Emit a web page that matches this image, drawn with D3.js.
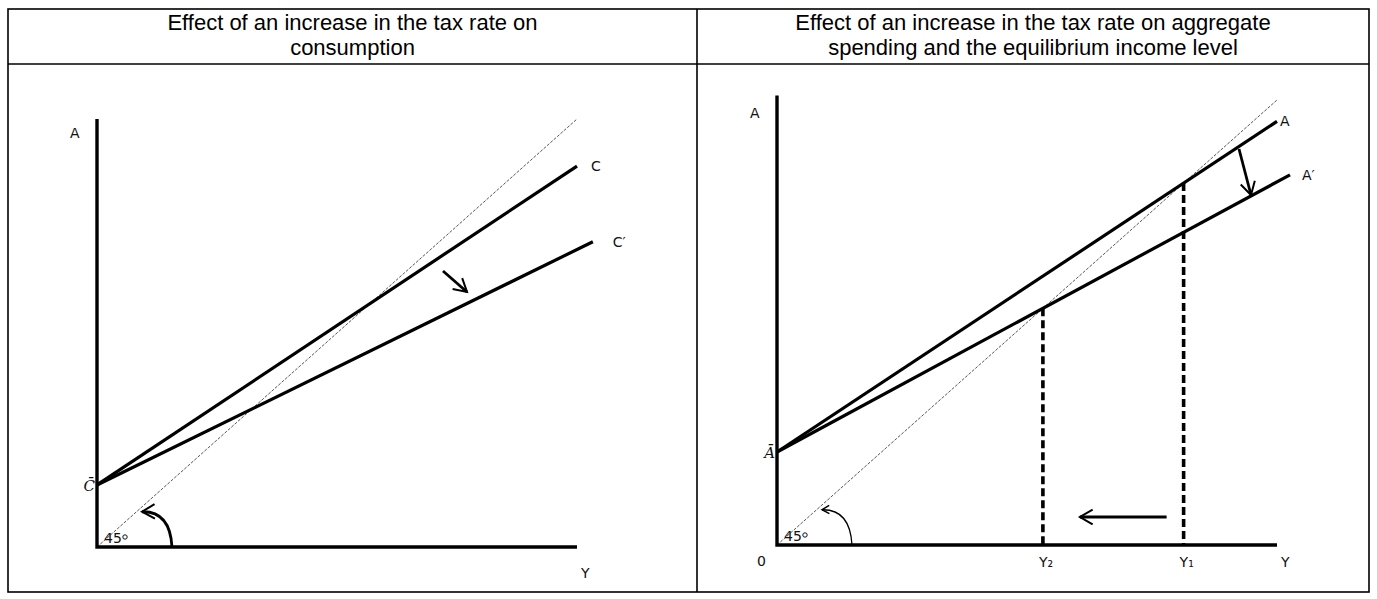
<!DOCTYPE html>
<html>
<head>
<meta charset="utf-8">
<script src="https://cdn.jsdelivr.net/npm/d3@7"></script>
<style>
  html, body { margin: 0; padding: 0; background: #fff; }
  svg { display: block; }
  .title { font-family: "Liberation Sans", Arial, sans-serif; font-size: 22px; fill: #000; }
  .lbl { font-family: "DejaVu Sans", Verdana, sans-serif; font-size: 14px; fill: #111; }
  .bar { font-family: "DejaVu Serif", serif; font-style: italic; font-size: 15px; fill: #111; }
</style>
</head>
<body>
<svg id="chart" width="1377" height="599"></svg>
<script>
// Panel titles
const titles = [
  ["Effect of an increase in the tax rate on", "consumption"],
  ["Effect of an increase in the tax rate on aggregate", "spending and the equilibrium income level"]
];

// Left panel: consumption schedules (intercept, marginal slope, end of line on the Y axis scale)
const consNames = ["C", "C\u2032"];
const consIntercept = [14.5, 14.5];
const consSlope = [0.745, 0.55];
const consEnd = [100, 103.3];

// Right panel: aggregate spending schedules
const aggNames = ["A", "A\u2032"];
const aggIntercept = [20.9, 20.9];
const aggSlope = [0.743, 0.607];
const aggEnd = [100, 102.6];
const incomeLabels = ["Y\u2081", "Y\u2082"];

const svg = d3.select("#chart");

// Table frame
const frame = { left: 8, right: 1369, top: 9, head: 64, bottom: 592, mid: 697 };
const g0 = svg.append("g").attr("stroke", "#000").attr("stroke-width", 1.6);
g0.append("rect").attr("x", frame.left).attr("y", frame.top)
  .attr("width", frame.right - frame.left).attr("height", frame.bottom - frame.top).attr("fill", "none");
g0.append("line").attr("x1", frame.left).attr("x2", frame.right).attr("y1", frame.head).attr("y2", frame.head);
g0.append("line").attr("x1", frame.mid).attr("x2", frame.mid).attr("y1", frame.top).attr("y2", frame.bottom);

const centers = [(frame.left + frame.mid) / 2, (frame.mid + frame.right) / 2];
titles.forEach((t, i) => {
  t.forEach((line, j) => {
    svg.append("text").attr("class", "title").attr("text-anchor", "middle")
      .attr("x", centers[i]).attr("y", 30 + j * 25).text(line);
  });
});

// Arrowhead markers
const defs = svg.append("defs");
defs.append("marker").attr("id", "head").attr("viewBox", "0 0 10 10")
  .attr("refX", 8).attr("refY", 5).attr("markerWidth", 6.5).attr("markerHeight", 6.5)
  .attr("orient", "auto").attr("markerUnits", "strokeWidth")
  .append("path").attr("d", "M1,1 L8,5 L1,9").attr("fill", "none").attr("stroke", "#000").attr("stroke-width", 1.1);
defs.append("marker").attr("id", "headThin").attr("viewBox", "0 0 10 10")
  .attr("refX", 8).attr("refY", 5).attr("markerWidth", 8).attr("markerHeight", 8)
  .attr("orient", "auto").attr("markerUnits", "strokeWidth")
  .append("path").attr("d", "M1,1 L8,5 L1,9").attr("fill", "none").attr("stroke", "#000").attr("stroke-width", 1.4);

function drawPanel(opt) {
  const x = d3.scaleLinear().domain([0, 100]).range(opt.xr);
  const y = d3.scaleLinear().domain([0, 100]).range(opt.yr);
  const g = svg.append("g");
  const line = d3.line().x(d => x(d[0])).y(d => y(d[1]));

  // 45-degree reference line
  g.append("path").datum([[0, 0], [100, opt.diagTop]]).attr("d", line)
    .attr("fill", "none").attr("stroke", "#444").attr("stroke-width", 0.9).attr("stroke-dasharray", "3,1.5");

  // Axes
  g.append("path").datum([[0, opt.yTop], [0, 0], [100, 0]]).attr("d", line)
    .attr("fill", "none").attr("stroke", "#000").attr("stroke-width", 3.4).attr("stroke-linejoin", "miter");

  // Schedules
  opt.names.forEach((n, i) => {
    const pts = [[0, opt.intercept[i]], [opt.end[i], opt.intercept[i] + opt.slope[i] * opt.end[i]]];
    g.append("path").datum(pts).attr("d", line)
      .attr("fill", "none").attr("stroke", "#000").attr("stroke-width", 3.2);
    g.append("text").attr("class", "lbl")
      .attr("x", x(pts[1][0]) + opt.nameDx[i]).attr("y", y(pts[1][1]) + 5).text(n);
  });

  // Axis labels
  g.append("text").attr("class", "lbl").attr("x", x(0) - 27).attr("y", y(opt.yTop) + opt.aDy).text("A");
  g.append("text").attr("class", "lbl").attr("x", x(100) + opt.yDx).attr("y", y(0) + opt.yDy).text("Y");
  g.append("text").attr("class", "bar").attr("text-anchor", "end")
    .attr("x", x(0) - 2).attr("y", y(opt.intercept[0]) + 6).text(opt.barLabel);

  // 45° marker
  g.append("text").attr("class", "lbl").attr("font-size", "15px")
    .attr("x", x(0) + opt.degDx).attr("y", y(0) - 4).text("45");
  g.append("circle").attr("cx", x(0) + opt.degDx + 21).attr("cy", y(0) - 10).attr("r", 2.2)
    .attr("fill", "none").attr("stroke", "#111").attr("stroke-width", 1);
  g.append("path")
    .attr("d", `M${x(0) + opt.arcR},${y(0)} Q${x(0) + opt.arcR - 2},${y(0) - opt.arcR * 0.48} ${x(0) + opt.arcR * 0.6},${y(0) - opt.arcR * 0.47}`)
    .attr("fill", "none").attr("stroke", "#000").attr("stroke-width", opt.arcW)
    .attr("marker-end", opt.arcW > 2 ? "url(#head)" : "url(#headThin)");
  return { g, x, y, line };
}

// Left panel
const L = drawPanel({
  xr: [97, 577], yr: [547, 119], yTop: 100, diagTop: 100,
  names: consNames, intercept: consIntercept, slope: consSlope, end: consEnd,
  nameDx: [14, 20], aDy: 19, yDx: 4, yDy: 31, barLabel: "C\u0304",
  degDx: 7, arcR: 75, arcW: 2.8
});
// Shift arrow for the consumption schedule
L.g.append("line").attr("x1", 443).attr("y1", 271).attr("x2", 467).attr("y2", 292)
  .attr("stroke", "#000").attr("stroke-width", 2.8).attr("marker-end", "url(#head)");

// Right panel
const R = drawPanel({
  xr: [777, 1277], yr: [545, 100], yTop: 101, diagTop: 100,
  names: aggNames, intercept: aggIntercept, slope: aggSlope, end: aggEnd,
  nameDx: [3, 12], aDy: 22, yDx: 4, yDy: 22, barLabel: "A\u0304",
  degDx: 7, arcR: 75, arcW: 1.3
});
R.g.append("text").attr("class", "lbl").attr("font-size", "14px").attr("x", R.x(0) - 20).attr("y", R.y(0) + 21).text("0");

// Equilibrium income levels where each schedule meets the 45-degree line
const eq = aggIntercept.map((a, i) => a / (1 - aggSlope[i]));
eq.forEach((yv, i) => {
  R.g.append("path").datum([[yv, yv], [yv, 0]]).attr("d", R.line)
    .attr("fill", "none").attr("stroke", "#000").attr("stroke-width", 3.6).attr("stroke-dasharray", "8,4");
  R.g.append("text").attr("class", "lbl").attr("x", R.x(yv) - 4).attr("y", R.y(0) + 22).text(incomeLabels[i]);
});
// Leftward shift of equilibrium income
R.g.append("line").attr("x1", R.x(eq[0]) - 17).attr("y1", 517).attr("x2", R.x(eq[1]) + 37).attr("y2", 517)
  .attr("stroke", "#000").attr("stroke-width", 2.8).attr("marker-end", "url(#head)");
// Downward shift of the spending schedule
R.g.append("line").attr("x1", 1239).attr("y1", 149).attr("x2", 1251).attr("y2", 195)
  .attr("stroke", "#000").attr("stroke-width", 2.8).attr("marker-end", "url(#head)");
</script>
</body>
</html>
